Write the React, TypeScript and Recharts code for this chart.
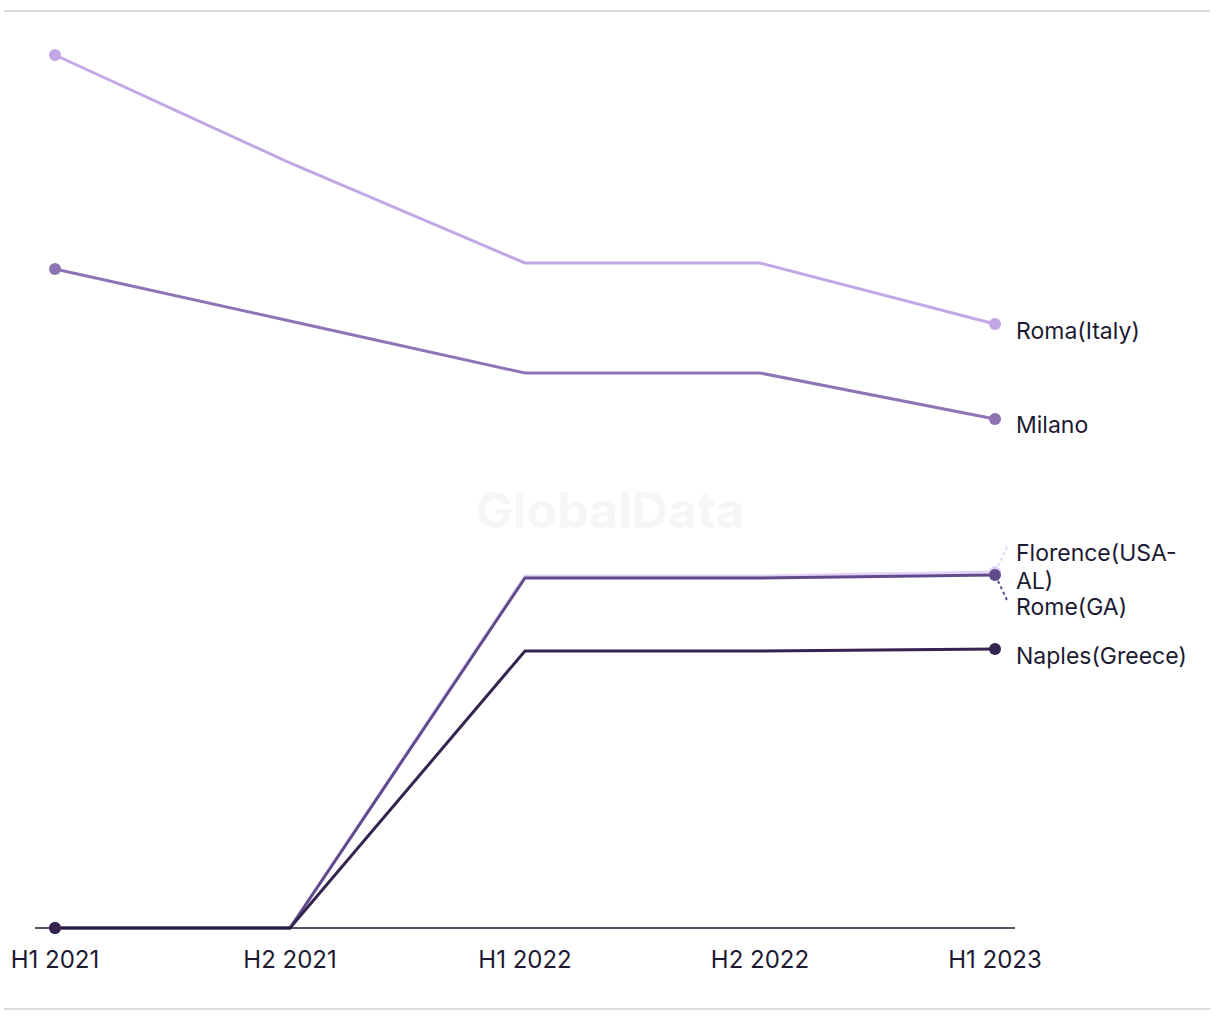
import React from "react";
import { LineChart, Line, XAxis, YAxis } from "recharts";

const periods = ["H1 2021", "H2 2021", "H1 2022", "H2 2022", "H1 2023"];

const romaItaly = [8.73, 7.65, 6.65, 6.65, 6.04];
const milano = [6.59, 6.07, 5.55, 5.55, 5.09];
const florenceUsaAl = [0, 0, 3.52, 3.52, 3.56];
const romeGa = [0, 0, 3.5, 3.5, 3.53];
const naplesGreece = [0, 0, 2.77, 2.77, 2.79];

const chartData = periods.map((p, i) => ({
  period: p,
  roma: romaItaly[i],
  milano: milano[i],
  florence: florenceUsaAl[i],
  romeGa: romeGa[i],
  naples: naplesGreece[i],
}));

type SeriesDef = {
  key: string;
  lines: string[];
  color: string;
  labelDy: number;
  leader?: { dx: number; dy: number };
};

// drawn in this order, last one on top
const series: SeriesDef[] = [
  { key: "florence", lines: ["Florence(USA-", "AL)"], color: "#e2d3f6", labelDy: -19, leader: { dx: 12, dy: -25 } },
  { key: "romeGa", lines: ["Rome(GA)"], color: "#614b8c", labelDy: 32, leader: { dx: 12, dy: 25 } },
  { key: "milano", lines: ["Milano"], color: "#8f74b5", labelDy: 6 },
  { key: "roma", lines: ["Roma(Italy)"], color: "#c3a6e6", labelDy: 7 },
  { key: "naples", lines: ["Naples(Greece)"], color: "#34244f", labelDy: 7 },
];

const TEXT = "#1c1a33";
const FONT = "Inter, 'Noto Sans', sans-serif";

function makeDot(s: SeriesDef) {
  return (props: any) => {
    const { cx, cy, index } = props;
    const last = periods.length - 1;
    if (index !== 0 && index !== last) return <g key={`${s.key}-${index}`} />;
    return (
      <g key={`${s.key}-${index}`}>
        <circle cx={cx} cy={cy} r={6} fill={s.color} />
        {index === last && s.leader && (
          <line
            x1={cx + Math.sign(s.leader.dx) * 3}
            y1={cy + Math.sign(s.leader.dy) * 6}
            x2={cx + s.leader.dx}
            y2={cy + s.leader.dy}
            stroke={s.color}
            strokeWidth={2}
            strokeDasharray="3 3"
          />
        )}
        {index === last && (
          <text x={cx + 21} y={cy + s.labelDy} fill={TEXT} fontSize={23} fontFamily={FONT} dominantBaseline="central">
            {s.lines.map((l, j) => (
              <tspan key={j} x={cx + 21} dy={j === 0 ? 0 : 28}>
                {l}
              </tspan>
            ))}
          </text>
        )}
      </g>
    );
  };
}

export default function App() {
  return (
    <div style={{ position: "absolute", left: 0, top: 0, width: 1220, height: 1020, background: "#fff", fontFamily: FONT }}>
      <div style={{ position: "absolute", left: 4, top: 10, width: 1206, height: 2, background: "#d9d9d9" }} />
      <div style={{ position: "absolute", left: 4, top: 1008, width: 1206, height: 2, background: "#d9d9d9" }} />
      <div
        style={{
          position: "absolute",
          left: 0,
          width: 1220,
          top: 480,
          textAlign: "center",
          fontSize: 50,
          fontWeight: 700,
          color: "#f6f6f6",
          pointerEvents: "none",
        }}
      >
        GlobalData
      </div>
      <div style={{ position: "absolute", left: 0, top: 0 }}>
        <LineChart width={1220} height={1020} data={chartData} margin={{ top: 28, right: 205, bottom: 42, left: 35 }}>
          <XAxis
            dataKey="period"
            height={50}
            padding={{ left: 20, right: 20 }}
            tickLine={false}
            tickSize={0}
            tickMargin={23}
            axisLine={{ stroke: TEXT, strokeWidth: 1.5 }}
            tick={{ fill: TEXT, fontSize: 24, fontFamily: FONT }}
            interval={0}
          />
          <YAxis hide domain={[0, 9]} />
          {series.map((s) => (
            <Line
              key={s.key}
              dataKey={s.key}
              type="linear"
              stroke={s.color}
              strokeWidth={3}
              dot={makeDot(s)}
              activeDot={false}
              isAnimationActive={false}
            />
          ))}
        </LineChart>
      </div>
    </div>
  );
}
